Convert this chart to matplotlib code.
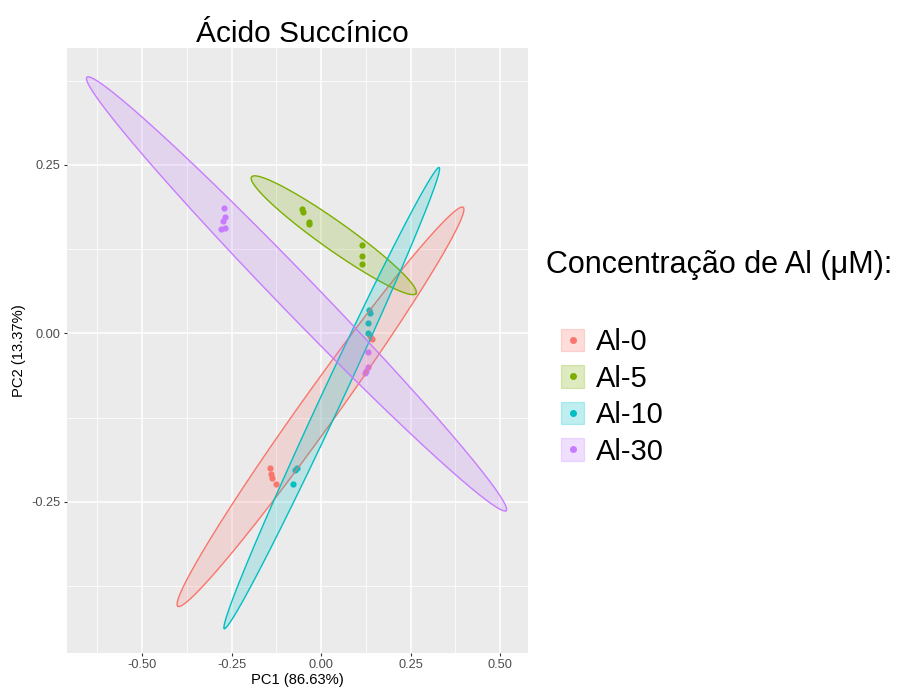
import numpy as np
import matplotlib
matplotlib.use("Agg")
import matplotlib.pyplot as plt
from matplotlib.patches import Patch
from matplotlib.lines import Line2D
from matplotlib.legend_handler import HandlerTuple

plt.rcParams['font.family'] = ['Liberation Sans', 'DejaVu Sans']

# ---------------- data ----------------
groups = ["Al-0", "Al-5", "Al-10", "Al-30"]
colors = ["#F8766D", "#7CAE00", "#00BFC4", "#C77CFF"]

pc1_al0 = [0.142, 0.136, -0.142, -0.140, -0.138, -0.126]
pc2_al0 = [-0.009, -0.004, -0.200, -0.208, -0.215, -0.224]

pc1_al5 = [-0.052, -0.049, -0.035, -0.033, 0.113, 0.113, 0.115]
pc2_al5 = [0.184, 0.180, 0.165, 0.162, 0.131, 0.115, 0.103]

pc1_al10 = [0.135, 0.137, 0.132, 0.130, -0.073, -0.066, -0.078]
pc2_al10 = [0.035, 0.030, 0.015, 0.000, -0.203, -0.200, -0.223]

pc1_al30 = [-0.271, -0.268, -0.275, -0.267, -0.279, 0.132, 0.130, 0.123, 0.126]
pc2_al30 = [0.186, 0.173, 0.166, 0.156, 0.155, -0.027, -0.050, -0.059, -0.056]

# ellipse major-axis end points (PC1, PC2) and minor/major ratio
ell_tip_a = [(0.397, 0.187), (-0.194, 0.232), (0.330, 0.246), (-0.654, 0.380)]
ell_tip_b = [(-0.400, -0.405), (0.265, 0.059), (-0.270, -0.438), (0.517, -0.263)]
ell_ratio = [0.073, 0.14, 0.041, 0.063]

xticks = [-0.50, -0.25, 0.00, 0.25, 0.50]
yticks = [-0.25, 0.00, 0.25]

pc1 = [pc1_al0, pc1_al5, pc1_al10, pc1_al30]
pc2 = [pc2_al0, pc2_al5, pc2_al10, pc2_al30]

# ---------------- figure ----------------
fig = plt.figure(figsize=(9.0, 6.93), dpi=100)
ax = fig.add_axes([67/900, 1-653/693, (528-67)/900, (653-48)/693])
ax.set_xlim(-0.7095, 0.578)
ax.set_ylim(-0.4743, 0.4233)
ax.set_facecolor("#EBEBEB")
for s in ax.spines.values():
    s.set_visible(False)

ax.set_xticks(xticks)
ax.set_xticklabels(["%.2f" % v for v in xticks])
ax.set_yticks(yticks)
ax.set_yticklabels(["%.2f" % v for v in yticks])
ax.set_xticks(np.arange(-0.625, 0.6, 0.25), minor=True)
ax.set_yticks(np.arange(-0.375, 0.45, 0.25), minor=True)
ax.grid(which="major", color="white", linewidth=1.1, zorder=0)
ax.grid(which="minor", color="white", linewidth=0.55, zorder=0)
ax.set_axisbelow(True)
ax.tick_params(which="major", length=2.5, width=0.8, color="#333333",
               labelsize=9.2, labelcolor="#4D4D4D", pad=2)
ax.tick_params(which="minor", length=0)

ax.set_xlabel("PC1 (86.63%)", fontsize=10.6, labelpad=1)
ax.set_ylabel("PC2 (13.37%)", fontsize=10.6, labelpad=4)
ax.set_title("Ácido Succínico", fontsize=21.5, pad=4, x=0.51)


def ellipse_xy(tip1, tip2, ratio, n=300):
    p = ax.transData.transform([tip1, tip2])
    c = p.mean(axis=0)
    u = (p[1] - p[0]) / 2.0
    v = np.array([-u[1], u[0]]) * ratio
    t = np.linspace(0, 2 * np.pi, n)
    pts = c + np.outer(np.cos(t), u) + np.outer(np.sin(t), v)
    return ax.transData.inverted().transform(pts)


for i, g in enumerate(groups):
    ax.scatter(pc1[i], pc2[i], s=20, color=colors[i], zorder=2, linewidths=0)

for i, g in enumerate(groups):
    xy = ellipse_xy(ell_tip_a[i], ell_tip_b[i], ell_ratio[i])
    ax.fill(xy[:, 0], xy[:, 1], facecolor=colors[i], alpha=0.2, zorder=3,
            edgecolor="none")
    ax.plot(xy[:, 0], xy[:, 1], color=colors[i], lw=1.0, zorder=3)

handles = []
for c in colors:
    handles.append((Patch(facecolor=c, alpha=0.25, edgecolor=c, linewidth=0.9),
                    Line2D([], [], marker="o", color=c, linestyle="", markersize=4)))

fig.text(546/900, 1-273/693, "Concentração de Al (μM):", fontsize=22,
         ha="left", va="baseline")

leg = fig.legend(handles, groups, loc="center left",
                 bbox_to_anchor=(561/900, 1-397/693),
                 fontsize=21, frameon=False, borderpad=0, borderaxespad=0,
                 handlelength=0.8, handleheight=0.8, handletextpad=0.4,
                 labelspacing=0.29,
                 handler_map={tuple: HandlerTuple(ndivide=1)})

fig.savefig("out.png", dpi=100)
